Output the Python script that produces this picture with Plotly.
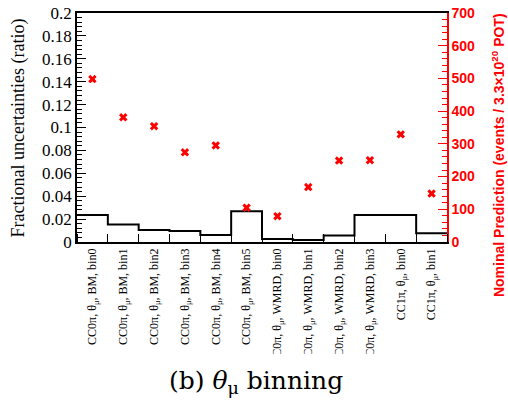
import plotly.graph_objects as go

# bin labels (theta_mu binning)
labels = [
    "CC0π, θ<sub>μ</sub>, BM, bin0",
    "CC0π, θ<sub>μ</sub>, BM, bin1",
    "CC0π, θ<sub>μ</sub>, BM, bin2",
    "CC0π, θ<sub>μ</sub>, BM, bin3",
    "CC0π, θ<sub>μ</sub>, BM, bin4",
    "CC0π, θ<sub>μ</sub>, BM, bin5",
    "CC0π, θ<sub>μ</sub>, WMRD, bin0",
    "CC0π, θ<sub>μ</sub>, WMRD, bin1",
    "CC0π, θ<sub>μ</sub>, WMRD, bin2",
    "CC0π, θ<sub>μ</sub>, WMRD, bin3",
    "CC1π, θ<sub>μ</sub>, bin0",
    "CC1π, θ<sub>μ</sub>, bin1",
]
frac_unc = [0.0236, 0.0152, 0.0105, 0.0095, 0.0061, 0.0269,
            0.0026, 0.0018, 0.0056, 0.0236, 0.0236, 0.0076]
nominal = [498, 381, 354, 274, 295, 105, 79, 168, 249, 250, 329, 148]

RED = "#ff0000"
SERIF = "Liberation Serif, Times New Roman, serif"
SANS = "Liberation Sans, Arial, sans-serif"

n = len(labels)
edges = list(range(n + 1))
centers = [i + 0.5 for i in range(n)]

fig = go.Figure()
# step histogram of fractional uncertainties
fig.add_trace(go.Scatter(
    x=edges, y=frac_unc + [frac_unc[-1]],
    mode="lines", line=dict(color="black", width=2, shape="hv"),
    showlegend=False, hoverinfo="skip",
))
# nominal prediction markers on the right axis
fig.add_trace(go.Scatter(
    x=centers, y=nominal, yaxis="y2",
    mode="markers", marker=dict(symbol="x", size=7.5, color=RED, line=dict(width=0)),
    showlegend=False,
))

fig.update_layout(
    width=508, height=403,
    margin=dict(l=77, r=61, t=13, b=161),
    paper_bgcolor="white", plot_bgcolor="white",
    xaxis=dict(
        range=[0, n], tickmode="array", tickvals=centers, ticktext=labels,
        ticks="", tickangle=-90, tickfont=dict(family=SERIF, size=12, color="black"),
        showline=True, linecolor="black", linewidth=1.5, mirror=True,
        showgrid=False, zeroline=False, automargin=False,
        minor=dict(tickmode="linear", tick0=0, dtick=1, ticks="inside",
                   ticklen=8, tickcolor="black", tickwidth=1, showgrid=False),
    ),
    yaxis=dict(
        range=[0, 0.2], dtick=0.02, ticks="inside", ticklen=9, tickwidth=1,
        tickcolor="black", showline=True, linecolor="black", linewidth=1.5,
        showgrid=False, zeroline=False, automargin=False,
        tickfont=dict(family=SERIF, size=17, color="black"),
        minor=dict(dtick=0.004, ticks="inside", ticklen=5, tickcolor="black",
                   showgrid=False),
    ),
    yaxis2=dict(
        overlaying="y", side="right", range=[0, 700], dtick=100,
        ticks="inside", ticklen=9, tickwidth=1, tickcolor=RED,
        showline=True, linecolor=RED, linewidth=1.5,
        showgrid=False, zeroline=False, automargin=False,
        tickfont=dict(family=SANS, size=14, color=RED, weight="bold"),
        minor=dict(dtick=20, ticks="inside", ticklen=5, tickcolor=RED, showgrid=False),
    ),
    shapes=[dict(type="rect", xref="paper", yref="paper", x0=-0.3, x1=1.2,
                 y0=-0.75, y1=-0.488, fillcolor="white", line=dict(width=0),
                 layer="above")],
    annotations=[
        dict(text="Fractional uncertainties (ratio)",
             xref="paper", yref="paper", x=-0.157, y=0.5, textangle=-90,
             xanchor="center", yanchor="middle", showarrow=False,
             font=dict(family=SERIF, size=18, color="black")),
        dict(text="Nominal Prediction (events / 3.3×10<sup>20</sup> POT)",
             xref="paper", yref="paper", x=1.138, y=0.38, textangle=-90,
             xanchor="center", yanchor="middle", showarrow=False,
             font=dict(family=SANS, size=14, color=RED, weight="bold")),
        dict(text="(b) <i>θ</i><sub>μ</sub> binning", xref="paper", yref="paper",
             x=0.485, y=-0.61, xanchor="center", yanchor="middle", showarrow=False,
             font=dict(family="DejaVu Serif, serif", size=25, color="black")),
    ],
)

# drop the browser's default body margin so the figure sits at (0, 0)
fig.write_html("out.html", config={"displayModeBar": False},
               post_script="document.body.style.margin='0px';")
